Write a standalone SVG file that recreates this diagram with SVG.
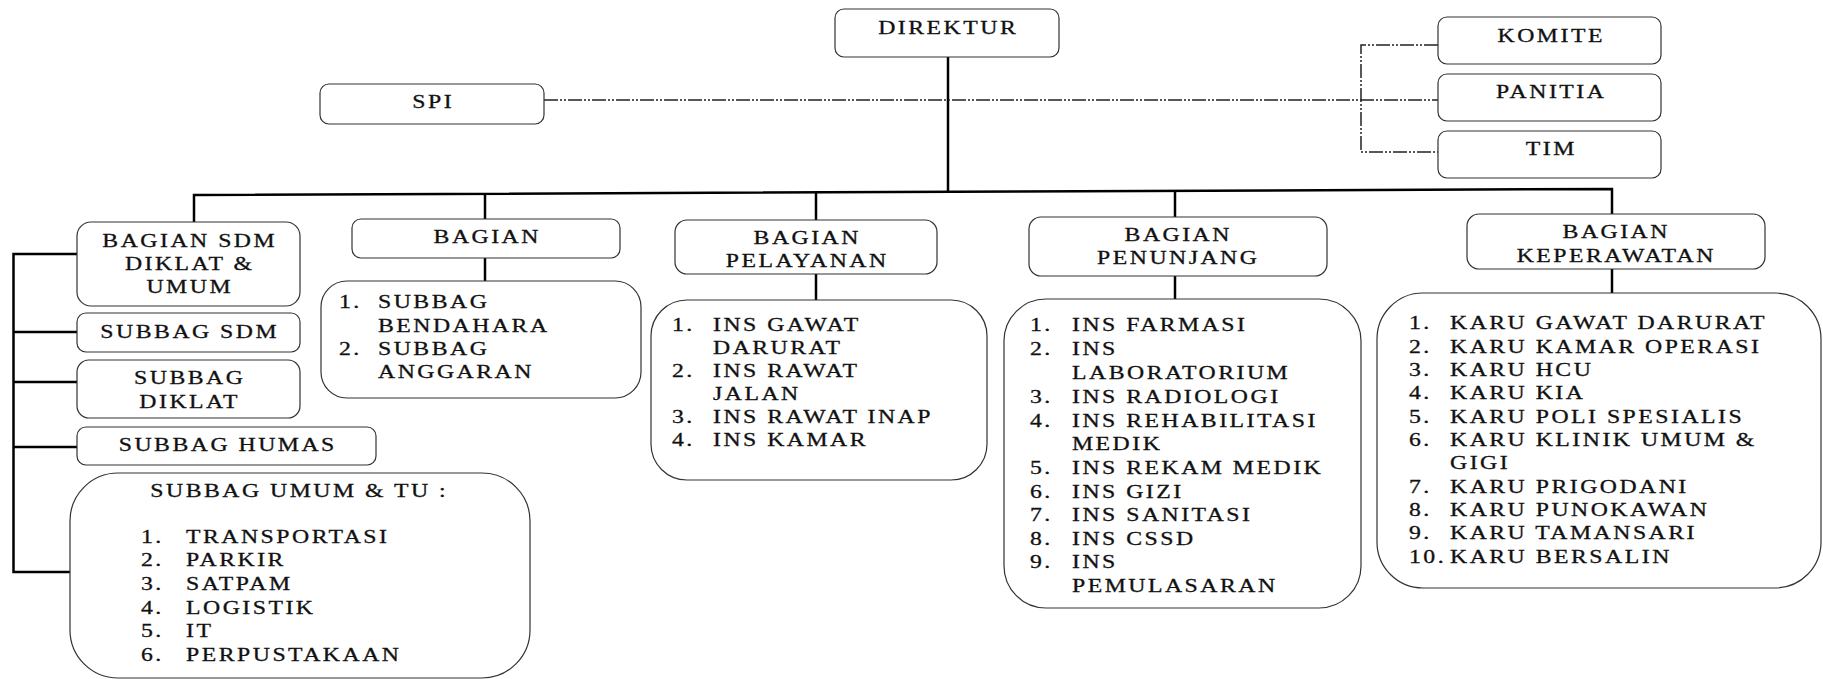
<svg xmlns="http://www.w3.org/2000/svg" width="1823" height="679" viewBox="0 0 1823 679">
<style>
.bx{fill:#fff;stroke:#333;stroke-width:1.2}
.t{font-family:"Liberation Serif","Times New Roman",serif;font-size:19px;letter-spacing:2px;fill:#111;stroke:#111;stroke-width:0.3}
.c{text-anchor:middle}
.sol{stroke:#000;stroke-width:2.5;fill:none}
.dsh{stroke:#222;stroke-width:1.5;fill:none;stroke-dasharray:14 2 2 2 2 2}
</style>
<rect width="1823" height="679" fill="#fff"/>
<g id="connectors">
<line class="sol" x1="948" y1="57" x2="948" y2="193"/>
<polyline class="sol" points="194,222 194,195 1612,189 1612,214"/>
<line class="sol" x1="485" y1="194" x2="485" y2="219"/>
<line class="sol" x1="485" y1="258" x2="485" y2="281"/>
<line class="sol" x1="816" y1="193" x2="816" y2="220"/>
<line class="sol" x1="816" y1="274" x2="816" y2="300"/>
<line class="sol" x1="1175" y1="191" x2="1175" y2="217"/>
<line class="sol" x1="1175" y1="276" x2="1175" y2="299"/>
<line class="sol" x1="1612" y1="269" x2="1612" y2="293"/>
<polyline class="sol" points="77,254 13.5,254 13.5,572 70,572"/>
<line class="sol" x1="13.5" y1="332" x2="77" y2="332"/>
<line class="sol" x1="13.5" y1="382" x2="77" y2="382"/>
<line class="sol" x1="13.5" y1="447" x2="77" y2="447"/>
<line class="dsh" x1="544" y1="100" x2="1438" y2="100"/>
<polyline class="dsh" points="1438,45 1361,45 1361,152 1438,152"/>
</g>
<g id="direktur"><rect class="bx" x="835" y="9" width="224" height="48" rx="9"/><text class="t c" transform="scale(1.25,1)" x="758.6" y="34">DIREKTUR</text></g>
<g id="spi"><rect class="bx" x="320" y="84" width="224" height="40" rx="9"/><text class="t c" transform="scale(1.25,1)" x="346.6" y="108">SPI</text></g>
<g id="komite"><rect class="bx" x="1438" y="17" width="223" height="47" rx="9"/><text class="t c" transform="scale(1.25,1)" x="1241" y="42">KOMITE</text></g>
<g id="panitia"><rect class="bx" x="1438" y="74" width="223" height="47" rx="9"/><text class="t c" transform="scale(1.25,1)" x="1241" y="98">PANITIA</text></g>
<g id="tim"><rect class="bx" x="1438" y="131" width="223" height="47" rx="9"/><text class="t c" transform="scale(1.25,1)" x="1241" y="155">TIM</text></g>

<g id="bagian-sdm"><rect class="bx" x="77" y="222" width="223" height="84" rx="14"/>
<g transform="scale(1.25,1)"><text class="t c" x="151.8" y="247">BAGIAN SDM</text><text class="t c" x="151.8" y="270">DIKLAT &amp;</text><text class="t c" x="151.8" y="293">UMUM</text></g></g>
<g id="subbag-sdm"><rect class="bx" x="77" y="313" width="223" height="39" rx="9"/><text class="t c" transform="scale(1.25,1)" x="151.8" y="338">SUBBAG SDM</text></g>
<g id="subbag-diklat"><rect class="bx" x="77" y="360" width="223" height="58" rx="12"/><g transform="scale(1.25,1)"><text class="t c" x="151.8" y="384">SUBBAG</text><text class="t c" x="151.8" y="408">DIKLAT</text></g></g>
<g id="subbag-humas"><rect class="bx" x="77" y="427" width="299" height="38" rx="9"/><text class="t c" transform="scale(1.25,1)" x="182.2" y="451">SUBBAG HUMAS</text></g>
<g id="subbag-umum"><rect class="bx" x="70" y="473" width="460" height="205" rx="48"/>
<g transform="scale(1.25,1)">
<text class="t c" x="239.4" y="497">SUBBAG UMUM &amp; TU :</text>
<text class="t" y="543"><tspan x="112.8">1.</tspan><tspan x="148.8">TRANSPORTASI</tspan></text>
<text class="t" y="566"><tspan x="112.8">2.</tspan><tspan x="148.8">PARKIR</tspan></text>
<text class="t" y="590"><tspan x="112.8">3.</tspan><tspan x="148.8">SATPAM</tspan></text>
<text class="t" y="614"><tspan x="112.8">4.</tspan><tspan x="148.8">LOGISTIK</tspan></text>
<text class="t" y="637"><tspan x="112.8">5.</tspan><tspan x="148.8">IT</tspan></text>
<text class="t" y="661"><tspan x="112.8">6.</tspan><tspan x="148.8">PERPUSTAKAAN</tspan></text>
</g></g>

<g id="bagian"><rect class="bx" x="352" y="219" width="268" height="39" rx="9"/><text class="t c" transform="scale(1.25,1)" x="389.8" y="243">BAGIAN</text></g>
<g id="bagian-list"><rect class="bx" x="321" y="281" width="320" height="117" rx="26"/>
<g transform="scale(1.25,1)">
<text class="t" y="308"><tspan x="271.2">1.</tspan><tspan x="302.4">SUBBAG</tspan></text>
<text class="t" x="302.4" y="332">BENDAHARA</text>
<text class="t" y="355"><tspan x="271.2">2.</tspan><tspan x="302.4">SUBBAG</tspan></text>
<text class="t" x="302.4" y="378">ANGGARAN</text>
</g></g>

<g id="bagian-pelayanan"><rect class="bx" x="675" y="220" width="262" height="54" rx="12"/>
<g transform="scale(1.25,1)"><text class="t c" x="645.8" y="244">BAGIAN</text><text class="t c" x="645.8" y="267">PELAYANAN</text></g></g>
<g id="pelayanan-list"><rect class="bx" x="651" y="300" width="336" height="180" rx="36"/>
<g transform="scale(1.25,1)">
<text class="t" y="331"><tspan x="537.6">1.</tspan><tspan x="570.4">INS GAWAT</tspan></text>
<text class="t" x="570.4" y="354">DARURAT</text>
<text class="t" y="377"><tspan x="537.6">2.</tspan><tspan x="570.4">INS RAWAT</tspan></text>
<text class="t" x="570.4" y="400">JALAN</text>
<text class="t" y="423"><tspan x="537.6">3.</tspan><tspan x="570.4">INS RAWAT INAP</tspan></text>
<text class="t" y="446"><tspan x="537.6">4.</tspan><tspan x="570.4">INS KAMAR</tspan></text>
</g></g>

<g id="bagian-penunjang"><rect class="bx" x="1029" y="217" width="298" height="59" rx="12"/>
<g transform="scale(1.25,1)"><text class="t c" x="942.6" y="241">BAGIAN</text><text class="t c" x="942.6" y="264">PENUNJANG</text></g></g>
<g id="penunjang-list"><rect class="bx" x="1004" y="299" width="357" height="309" rx="42"/>
<g transform="scale(1.25,1)">
<text class="t" y="331"><tspan x="824">1.</tspan><tspan x="857.6">INS FARMASI</tspan></text>
<text class="t" y="355"><tspan x="824">2.</tspan><tspan x="857.6">INS</tspan></text>
<text class="t" x="857.6" y="379">LABORATORIUM</text>
<text class="t" y="403"><tspan x="824">3.</tspan><tspan x="857.6">INS RADIOLOGI</tspan></text>
<text class="t" y="427"><tspan x="824">4.</tspan><tspan x="857.6">INS REHABILITASI</tspan></text>
<text class="t" x="857.6" y="450">MEDIK</text>
<text class="t" y="474"><tspan x="824">5.</tspan><tspan x="857.6">INS REKAM MEDIK</tspan></text>
<text class="t" y="498"><tspan x="824">6.</tspan><tspan x="857.6">INS GIZI</tspan></text>
<text class="t" y="521"><tspan x="824">7.</tspan><tspan x="857.6">INS SANITASI</tspan></text>
<text class="t" y="545"><tspan x="824">8.</tspan><tspan x="857.6">INS CSSD</tspan></text>
<text class="t" y="568"><tspan x="824">9.</tspan><tspan x="857.6">INS</tspan></text>
<text class="t" x="857.6" y="592">PEMULASARAN</text>
</g></g>

<g id="bagian-keperawatan"><rect class="bx" x="1467" y="214" width="298" height="55" rx="12"/>
<g transform="scale(1.25,1)"><text class="t c" x="1293" y="238">BAGIAN</text><text class="t c" x="1293" y="262">KEPERAWATAN</text></g></g>
<g id="keperawatan-list"><rect class="bx" x="1377" y="293" width="444" height="295" rx="46"/>
<g transform="scale(1.25,1)">
<text class="t" y="329"><tspan x="1127.2">1.</tspan><tspan x="1160">KARU GAWAT DARURAT</tspan></text>
<text class="t" y="353"><tspan x="1127.2">2.</tspan><tspan x="1160">KARU KAMAR OPERASI</tspan></text>
<text class="t" y="376"><tspan x="1127.2">3.</tspan><tspan x="1160">KARU HCU</tspan></text>
<text class="t" y="399"><tspan x="1127.2">4.</tspan><tspan x="1160">KARU KIA</tspan></text>
<text class="t" y="423"><tspan x="1127.2">5.</tspan><tspan x="1160">KARU POLI SPESIALIS</tspan></text>
<text class="t" y="446"><tspan x="1127.2">6.</tspan><tspan x="1160">KARU KLINIK UMUM &amp;</tspan></text>
<text class="t" x="1160" y="469">GIGI</text>
<text class="t" y="493"><tspan x="1127.2">7.</tspan><tspan x="1160">KARU PRIGODANI</tspan></text>
<text class="t" y="516"><tspan x="1127.2">8.</tspan><tspan x="1160">KARU PUNOKAWAN</tspan></text>
<text class="t" y="539"><tspan x="1127.2">9.</tspan><tspan x="1160">KARU TAMANSARI</tspan></text>
<text class="t" y="563"><tspan x="1127.2">10.</tspan><tspan x="1160">KARU BERSALIN</tspan></text>
</g></g>
</svg>
